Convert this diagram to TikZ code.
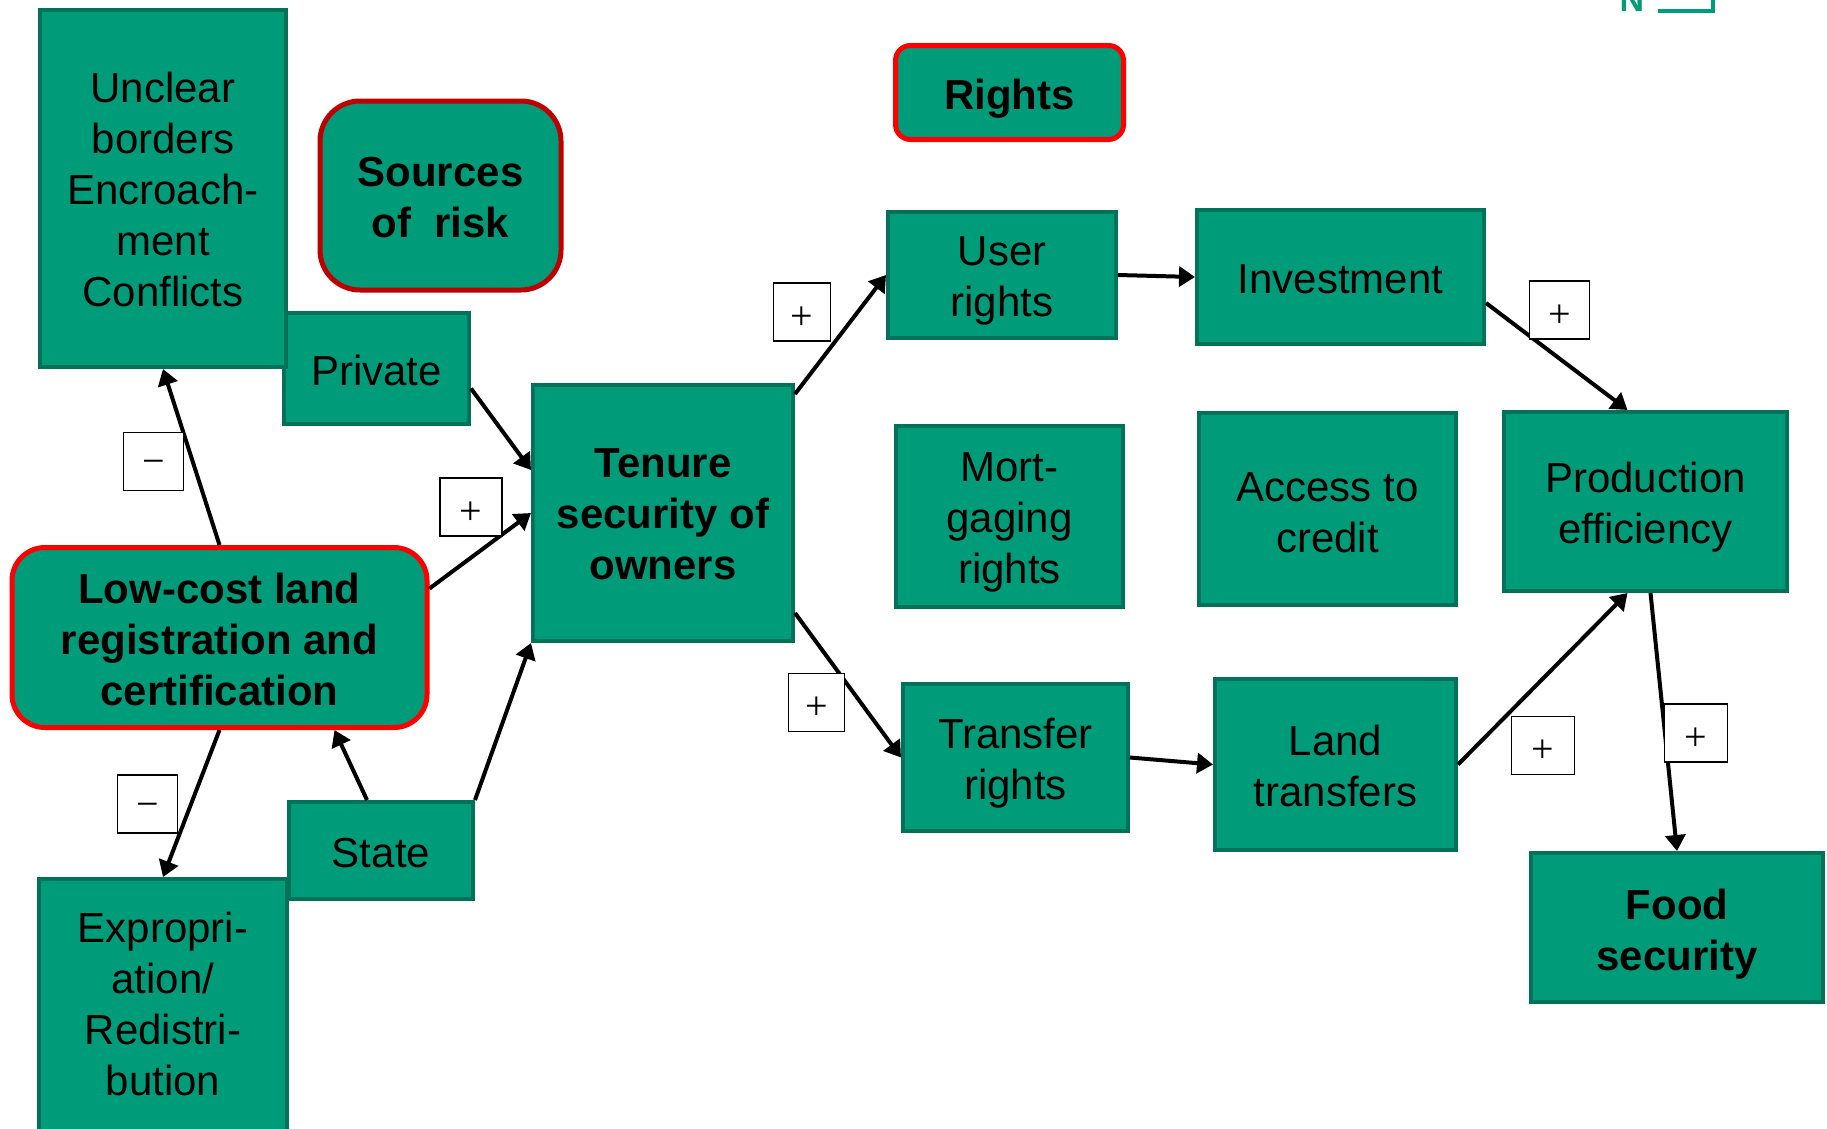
\documentclass[tikz,border=0pt]{standalone}
\usepackage{fontspec}
\setmainfont{Liberation Sans}
\newfontfamily\signfont{Liberation Serif}
\usetikzlibrary{arrows.meta}
\definecolor{boxgreen}{HTML}{009C7A}
\definecolor{boxedge}{HTML}{00725A}
\definecolor{brightred}{HTML}{FF0000}
\definecolor{darkred}{HTML}{C00000}
\begin{document}
\begin{tikzpicture}[x=1pt,y=-1pt,
  box/.style={rectangle, draw=boxedge, line width=4pt, fill=boxgreen, inner sep=0pt},
  keybox/.style={box, draw=brightred, line width=5pt},
  plaintxt/.style={inner sep=0pt, align=center, font=\fontsize{42}{51}\selectfont},
  boldtxt/.style={inner sep=0pt, align=center, font=\bfseries\fontsize{42}{51}\selectfont},
  arr/.style={line width=4pt, -{Triangle[length=16pt,width=20pt]}},
  sgn/.style={rectangle, draw=black, line width=1.5pt, fill=white, inner sep=0pt,
    minimum width=60pt, minimum height=58pt},
  sgntxt/.style={inner sep=0pt, font=\signfont\fontsize{40}{40}\selectfont}]
\useasboundingbox[fill=white] (0,0) rectangle (1827,1128);

% fragment at the top right
\node[anchor=base, inner sep=0pt, text=boxgreen, font=\bfseries\fontsize{34}{34}\selectfont] (nfrag) at (1632,11) {N};
\coordinate (fragA) at (1658,11);
\coordinate (fragB) at (1713,11);
\coordinate (fragC) at (1713,-6);
\draw[boxgreen, line width=3.5pt] (fragA) -- (fragB) -- (fragC);

% boxes drawn behind others
\node[box, minimum width=185pt, minimum height=111pt] (priv) at (376.5,368.5) {};
\node[plaintxt] (privT) at ([yshift=-1.5pt]priv.center) {Private};
\node[box, minimum width=184pt, minimum height=97pt] (st) at (381,850.5) {};
\node[plaintxt] (stT) at ([yshift=-3pt]st.center) {State};

\node[box, minimum width=246pt, minimum height=357pt] (unc) at (163,188.5) {};
\node[plaintxt] (uncT) at ([yshift=-1pt]unc.center) {Unclear\\borders\\Encroach-\\ment\\Conflicts};
\node[box, minimum width=248pt, minimum height=252pt] (exp) at (163,1005) {};
\node[plaintxt] (expT) at ([yshift=1pt]exp.center) {Expropri-\\ation/\\Redistri-\\bution};

\node[keybox, draw=darkred, rounded corners=40pt, minimum width=241pt, minimum height=189pt] (src) at (440.5,195.5) {};
\node[boldtxt] (srcT) at ([yshift=-2pt]src.center) {Sources\\of\ \ risk};
\node[keybox, rounded corners=33pt, minimum width=415pt, minimum height=180pt] (low) at (219.5,637.5) {};
\node[boldtxt] (lowT) at ([yshift=-2pt]low.center) {Low-cost land\\registration and\\certification};
\node[box, minimum width=260pt, minimum height=256pt] (ten) at (663,513) {};
\node[boldtxt] (tenT) at ([yshift=-1pt]ten.center) {Tenure\\security of\\owners};
\node[keybox, rounded corners=15pt, minimum width=228pt, minimum height=94pt] (rights) at (1009.5,92.5) {};
\node[boldtxt] (rightsT) at ([yshift=-6pt]rights.center) {Rights};

\node[box, minimum width=228pt, minimum height=126pt] (user) at (1002,275) {};
\node[plaintxt] (userT) at ([yshift=-6pt]user.center) {User\\rights};
\node[box, minimum width=287pt, minimum height=134pt] (inv) at (1340.5,277) {};
\node[plaintxt] (invT) at ([yshift=-2pt]inv.center) {Investment};
\node[box, minimum width=227pt, minimum height=181pt] (mort) at (1009.5,516.5) {};
\node[plaintxt] (mortT) at ([yshift=-6pt]mort.center) {Mort-\\gaging\\rights};
\node[box, minimum width=257pt, minimum height=192pt] (acc) at (1327.5,509) {};
\node[plaintxt] (accT) at ([yshift=-3.5pt]acc.center) {Access to\\credit};
\node[box, minimum width=283pt, minimum height=179pt] (prod) at (1645.5,501.5) {};
\node[plaintxt] (prodT) at ([yshift=-6pt]prod.center) {Production\\efficiency};
\node[box, minimum width=225pt, minimum height=147pt] (tr) at (1015.5,757.5) {};
\node[plaintxt] (trT) at ([yshift=-6pt]tr.center) {Transfer\\rights};
\node[box, minimum width=241pt, minimum height=171pt] (lt) at (1335.5,764.5) {};
\node[plaintxt] (ltT) at ([yshift=-1pt]lt.center) {Land\\transfers};
\node[box, minimum width=292pt, minimum height=149pt] (food) at (1677,927.5) {};
\node[boldtxt] (foodT) at ([yshift=-7pt]food.center) {Food\\security};

% connectors
\draw[arr] (low.north) -- (unc.south);
\draw[arr] ([yshift=49pt]low.east) -- (ten.west);
\draw[arr] ([yshift=-20pt]priv.east) -- ([yshift=43pt]ten.west);
\draw[arr] (st.north east) -- (ten.south west);
\draw[arr] ([xshift=-14pt]st.north) -- ([xshift=115pt]low.south);
\draw[arr] (low.south) -- (exp.north);
\draw[arr] ([yshift=-11pt]ten.north east) -- (user.west);
\draw[arr] ([yshift=-100pt]ten.east) -- (tr.west);
\draw[arr] (user.east) -- (inv.west);
\draw[arr] (tr.east) -- (lt.west);
\draw[arr] ([yshift=-26pt]inv.east) -- ([xshift=-18pt]prod.north);
\draw[arr] (lt.east) -- ([xshift=-18pt]prod.south);
\draw[arr] ([xshift=5pt]prod.south) -- (food.north);

% sign boxes
\node[sgn, minimum width=57pt] (pUser) at (802,312) {};
\node[sgntxt] (pUserT) at ([yshift=-6pt]pUser.center) {+};
\node[sgn] (mUnc) at (153.5,461.5) {};
\node[sgntxt] (mUncT) at ([yshift=-6pt]mUnc.center) {−};
\node[sgn, minimum width=62pt] (pPriv) at (471,507) {};
\node[sgntxt] (pPrivT) at ([yshift=-6pt]pPriv.center) {+};
\node[sgn] (mExp) at (147.5,804) {};
\node[sgntxt] (mExpT) at ([yshift=-6pt]mExp.center) {−};
\node[sgn, minimum width=56pt] (pTr) at (816.5,702.5) {};
\node[sgntxt] (pTrT) at ([yshift=-6pt]pTr.center) {+};
\node[sgn] (pInv) at (1559.5,310) {};
\node[sgntxt] (pInvT) at ([yshift=-6pt]pInv.center) {+};
\node[sgn, minimum width=63pt] (pLt) at (1543,745.5) {};
\node[sgntxt] (pLtT) at ([yshift=-6pt]pLt.center) {+};
\node[sgn, minimum width=63pt] (pFood) at (1696,733) {};
\node[sgntxt] (pFoodT) at ([yshift=-6pt]pFood.center) {+};
\end{tikzpicture}
\end{document}
